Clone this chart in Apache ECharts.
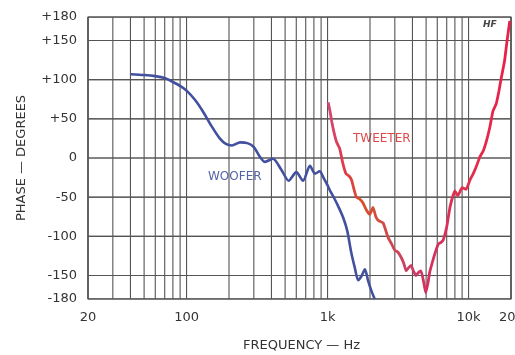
<!DOCTYPE html>
<html><head><meta charset="utf-8">
<script src="https://cdn.jsdelivr.net/npm/echarts@6/dist/echarts.min.js"></script>
<style>html,body{margin:0;padding:0;background:#fff}#c{width:515px;height:355px}</style>
</head><body><div id="c"></div>
<script>
var xTickLabels = [20, 100, 1000, 10000, 20000];
var xTickText = {20:'20', 100:'100', 1000:'1k', 10000:'10k', 20000:'20k'};
var yTicks = [-180, -150, -100, -50, 0, 50, 100, 150, 180];
var gridFreqs = [20,30,40,50,60,70,80,90,100,200,300,400,500,600,700,800,900,1000,2000,3000,4000,5000,6000,7000,8000,9000,10000,20000];

var wooferFreq = [40,50,60,70,80,90,100,115,130,150,172,190,210,240,270,300,330,360,410,470,530,600,670,750,815,880,935,1000,1050,1120,1200,1290,1380,1470,1560,1650,1750,1840,1940,2050,2160];
var wooferPhase = [107,106,104.5,102,97,92,86,74,60,41,25,18,16,20,19,14,2,-5,-1,-15,-29,-18,-29,-10,-20,-17,-25,-35,-43,-52,-63,-76,-93,-120,-140,-156,-150,-142,-157,-170,-180];

var tweeterFreq = [1010,1040,1070,1110,1160,1220,1280,1350,1420,1480,1540,1600,1680,1780,1880,1990,2100,2200,2300,2480,2680,2850,3000,3150,3330,3480,3610,3760,3910,4080,4240,4420,4600,4800,4970,5150,5300,5500,5750,6100,6350,6600,7000,7400,8000,8400,9000,9600,10240,10800,11400,12000,12700,13400,14140,14900,15700,16400,17100,18000,18700,19600];
var tweeterPhase = [71,60,47,33,20,12,-6,-20,-23,-28,-40,-50,-52,-57,-66,-72,-63,-75,-80,-83,-101,-110,-118,-120,-127,-135,-144,-140,-137,-145,-150,-146,-144,-158,-172,-160,-146,-135,-123,-110,-108,-105,-88,-62,-42,-48,-38,-40,-28,-20,-10,1,9,22,39,60,69,85,103,124,148,175];

function pairs(xs, ys){ return xs.map(function(x,i){return [x, ys[i]];}); }

var chart = echarts.init(document.getElementById('c'), null, {renderer:'canvas'});
var font = '"DejaVu Sans", sans-serif';
var gridColor = '#555555';

function gridSeries(data){
  return {type: 'line', data: data, silent: true, clip: false, z: 1, showSymbol: false, symbol: 'none',
    lineStyle: {color: gridColor, width: 1.1}, emphasis: {disabled: true}, tooltip: {show: false}};
}
var gridLines = [];
gridFreqs.forEach(function(f){ gridLines.push(gridSeries([[f, -180], [f, 180]])); });

// thin filled bands for the horizontal rules (drawn through the axes)
var bandSeries = {
  type: 'line', data: [], silent: true, z: 1, symbol: 'none',
  markArea: {
    silent: true, animation: false, label: {show: false},
    itemStyle: {color: gridColor, opacity: 0.9},
    data: yTicks.map(function(v){ return [{coord: [20, v - 0.6]}, {coord: [20000, v + 0.6]}]; })
  }
};

chart.setOption({
  animation: false,
  grid: {left: 88, right: 4, top: 17, bottom: 56, outerBoundsMode: 'none', containLabel: false,
    show: true, borderColor: gridColor, borderWidth: 1.1, backgroundColor: 'rgba(0,0,0,0)'},
  xAxis: {
    type: 'log', logBase: 10, min: 20, max: 20000,
    axisLine: {show: false}, axisTick: {show: false}, splitLine: {show: false},
    axisLabel: {customValues: xTickLabels, formatter: function(v){ return xTickText[v] || ''; },
      color: '#333', fontFamily: font, fontSize: 13, margin: 12}
  },
  yAxis: {
    type: 'value', min: -180, max: 180,
    axisLine: {show: false}, axisTick: {show: false}, splitLine: {show: false},
    axisLabel: {customValues: yTicks, formatter: function(v){ return v > 0 ? '+' + v : '' + v; },
      color: '#333', fontFamily: font, fontSize: 13, margin: 11}
  },
  series: gridLines.concat([bandSeries,
    {
      name: 'WOOFER', type: 'line', data: pairs(wooferFreq, wooferPhase),
      showSymbol: false, smooth: 0.25, z: 3,
      lineStyle: {color: '#42509f', width: 2.6}
    },
    {
      name: 'TWEETER', type: 'line', data: pairs(tweeterFreq, tweeterPhase),
      showSymbol: false, smooth: 0.15, z: 4,
      lineStyle: {width: 2.8, color: {
        type: 'linear', x: 0, y: 0, x2: 1, y2: 0,
        colorStops: [
          {offset: 0, color: '#d04a7a'},
          {offset: 0.1, color: '#e03a48'},
          {offset: 0.2, color: '#d8502a'},
          {offset: 0.32, color: '#cf4a4a'},
          {offset: 0.45, color: '#c84064'},
          {offset: 0.55, color: '#d43060'},
          {offset: 0.75, color: '#e0304e'},
          {offset: 1, color: '#e82048'}
        ]}}
    }
  ]),
  graphic: [
    {type: 'text', left: 243, top: 339, style: {text: 'FREQUENCY — Hz', font: '13px ' + font, fill: '#333'}},
    {type: 'text', x: 22, y: 158, rotation: Math.PI/2, style: {text: 'PHASE — DEGREES', font: '13px ' + font, fill: '#333', align: 'center', verticalAlign: 'middle'}},
    {type: 'text', left: 208, top: 171, style: {text: 'WOOFER', font: '12px ' + font, fill: '#5565a8'}},
    {type: 'text', left: 353, top: 133, style: {text: 'TWEETER', font: '12px ' + font, fill: '#e04a4a'}},
    {type: 'text', left: 483, top: 20, style: {text: 'HF', font: 'italic bold 9px ' + font, fill: '#444'}}
  ]
});

// horizontal rules and frame edges positioned through the chart's own scales
var extra = [];
yTicks.forEach(function(v, i){
  var a = chart.convertToPixel({gridIndex: 0}, [20, v]);
  var b = chart.convertToPixel({gridIndex: 0}, [20000, v]);
  extra.push({type: 'rect', id: 'h' + i, z: 2, silent: true,
    shape: {x: a[0], y: a[1] - 0.6, width: b[0] - a[0], height: 1.2},
    style: {fill: gridColor}});
});
[20, 20000].forEach(function(f, i){
  var a = chart.convertToPixel({gridIndex: 0}, [f, 180]);
  var b = chart.convertToPixel({gridIndex: 0}, [f, -180]);
  extra.push({type: 'rect', id: 'v' + i, z: 2, silent: true,
    shape: {x: a[0] - 0.6, y: a[1], width: 1.2, height: b[1] - a[1]},
    style: {fill: gridColor}});
});
chart.setOption({graphic: extra});
</script></body></html>
